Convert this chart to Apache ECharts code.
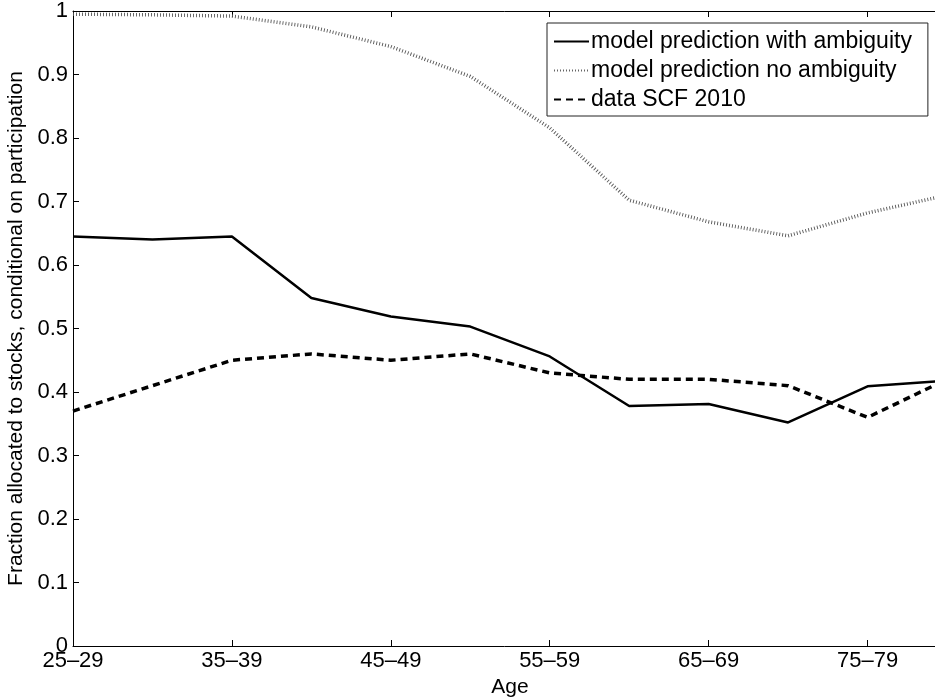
<!DOCTYPE html>
<html>
<head>
<meta charset="utf-8">
<script src="https://cdn.jsdelivr.net/npm/echarts@6/dist/echarts.min.js"></script>
<style>
  html, body { margin: 0; padding: 0; background: #fff; }
  #main { width: 935px; height: 698px; }
</style>
</head>
<body>
<div id="main"></div>
<script>
  // age groups on the x axis
  var ages = ['25–29', '30–34', '35–39', '40–44', '45–49', '50–54',
              '55–59', '60–64', '65–69', '70–74', '75–79', '80–84'];

  // fraction allocated to stocks
  var withAmbiguity = [0.645, 0.640, 0.645, 0.548, 0.519, 0.503, 0.456, 0.378, 0.381, 0.352, 0.409, 0.418];
  var noAmbiguity   = [0.995, 0.994, 0.992, 0.975, 0.944, 0.897, 0.816, 0.702, 0.668, 0.646, 0.682, 0.710];
  var scf2010       = [0.37, 0.41, 0.45, 0.46, 0.45, 0.46, 0.43, 0.42, 0.42, 0.41, 0.36, 0.42];

  var fontFam = 'Liberation Sans, Arial, Helvetica, sans-serif';

  var chart = echarts.init(document.getElementById('main'), null, {
    renderer: 'canvas'
  });

  var option = {
    animation: false,
    backgroundColor: '#fff',
    textStyle: { fontFamily: fontFam },
    grid: {
      left: 73,
      right: -12,
      top: 11,
      bottom: 52,
      containLabel: false,
      outerBoundsMode: 'none'
    },
    legend: {
      orient: 'vertical',
      left: 547,
      top: 23,
      padding: [7, 16, 5, 6],
      itemGap: 6,
      itemWidth: 35,
      itemHeight: 4,
      itemStyle: { opacity: 0 },
      backgroundColor: '#fff',
      borderColor: '#222',
      borderWidth: 1,
      borderRadius: 0,
      textStyle: { fontSize: 23, lineHeight: 23, color: '#000', fontFamily: fontFam, padding: [0, 0, 0, -3] },
      data: ['model prediction with ambiguity', 'model prediction no ambiguity', 'data SCF 2010']
    },
    xAxis: [{
      type: 'category',
      data: ages,
      boundaryGap: false,
      name: 'Age',
      nameLocation: 'middle',
      nameGap: 27,
      nameTextStyle: { fontSize: 21, color: '#000' },
      axisLine: { lineStyle: { color: '#000', width: 1 } },
      axisTick: { inside: true, length: 6, interval: 1, lineStyle: { color: '#000' } },
      axisLabel: { interval: 1, fontSize: 22, color: '#000', margin: 4 },
      splitLine: { show: false }
    }, {
      type: 'category',
      data: ages,
      boundaryGap: false,
      position: 'top',
      axisLine: { lineStyle: { color: '#000', width: 1 } },
      axisTick: { inside: true, length: 6, interval: 1, lineStyle: { color: '#000' } },
      axisLabel: { show: false },
      splitLine: { show: false }
    }],
    yAxis: {
      type: 'value',
      min: 0,
      max: 1,
      interval: 0.1,
      name: 'Fraction allocated to stocks, conditional on participation',
      nameLocation: 'middle',
      nameGap: 44,
      nameTextStyle: { fontSize: 21, color: '#000' },
      axisLine: { show: true, lineStyle: { color: '#000', width: 1 } },
      axisTick: { show: true, inside: true, length: 6, lineStyle: { color: '#000' } },
      axisLabel: { fontSize: 22, color: '#000', margin: 5 },
      splitLine: { show: false }
    },
    series: [{
      name: 'model prediction with ambiguity',
      type: 'line',
      data: withAmbiguity,
      symbol: 'none',
      lineStyle: { color: '#000', width: 2.5, type: 'solid' },
      itemStyle: { color: '#000' }
    }, {
      name: 'model prediction no ambiguity',
      type: 'line',
      data: noAmbiguity,
      symbol: 'none',
      lineStyle: { color: '#555', width: 3.5, type: [0.9, 2.1] },
      itemStyle: { color: '#555' }
    }, {
      name: 'data SCF 2010',
      type: 'line',
      data: scf2010,
      symbol: 'none',
      lineStyle: { color: '#000', width: 3.5, type: [7, 5] },
      itemStyle: { color: '#000' }
    }]
  };

  chart.setOption(option);

  window.addEventListener('resize', chart.resize);
</script>
</body>
</html>
